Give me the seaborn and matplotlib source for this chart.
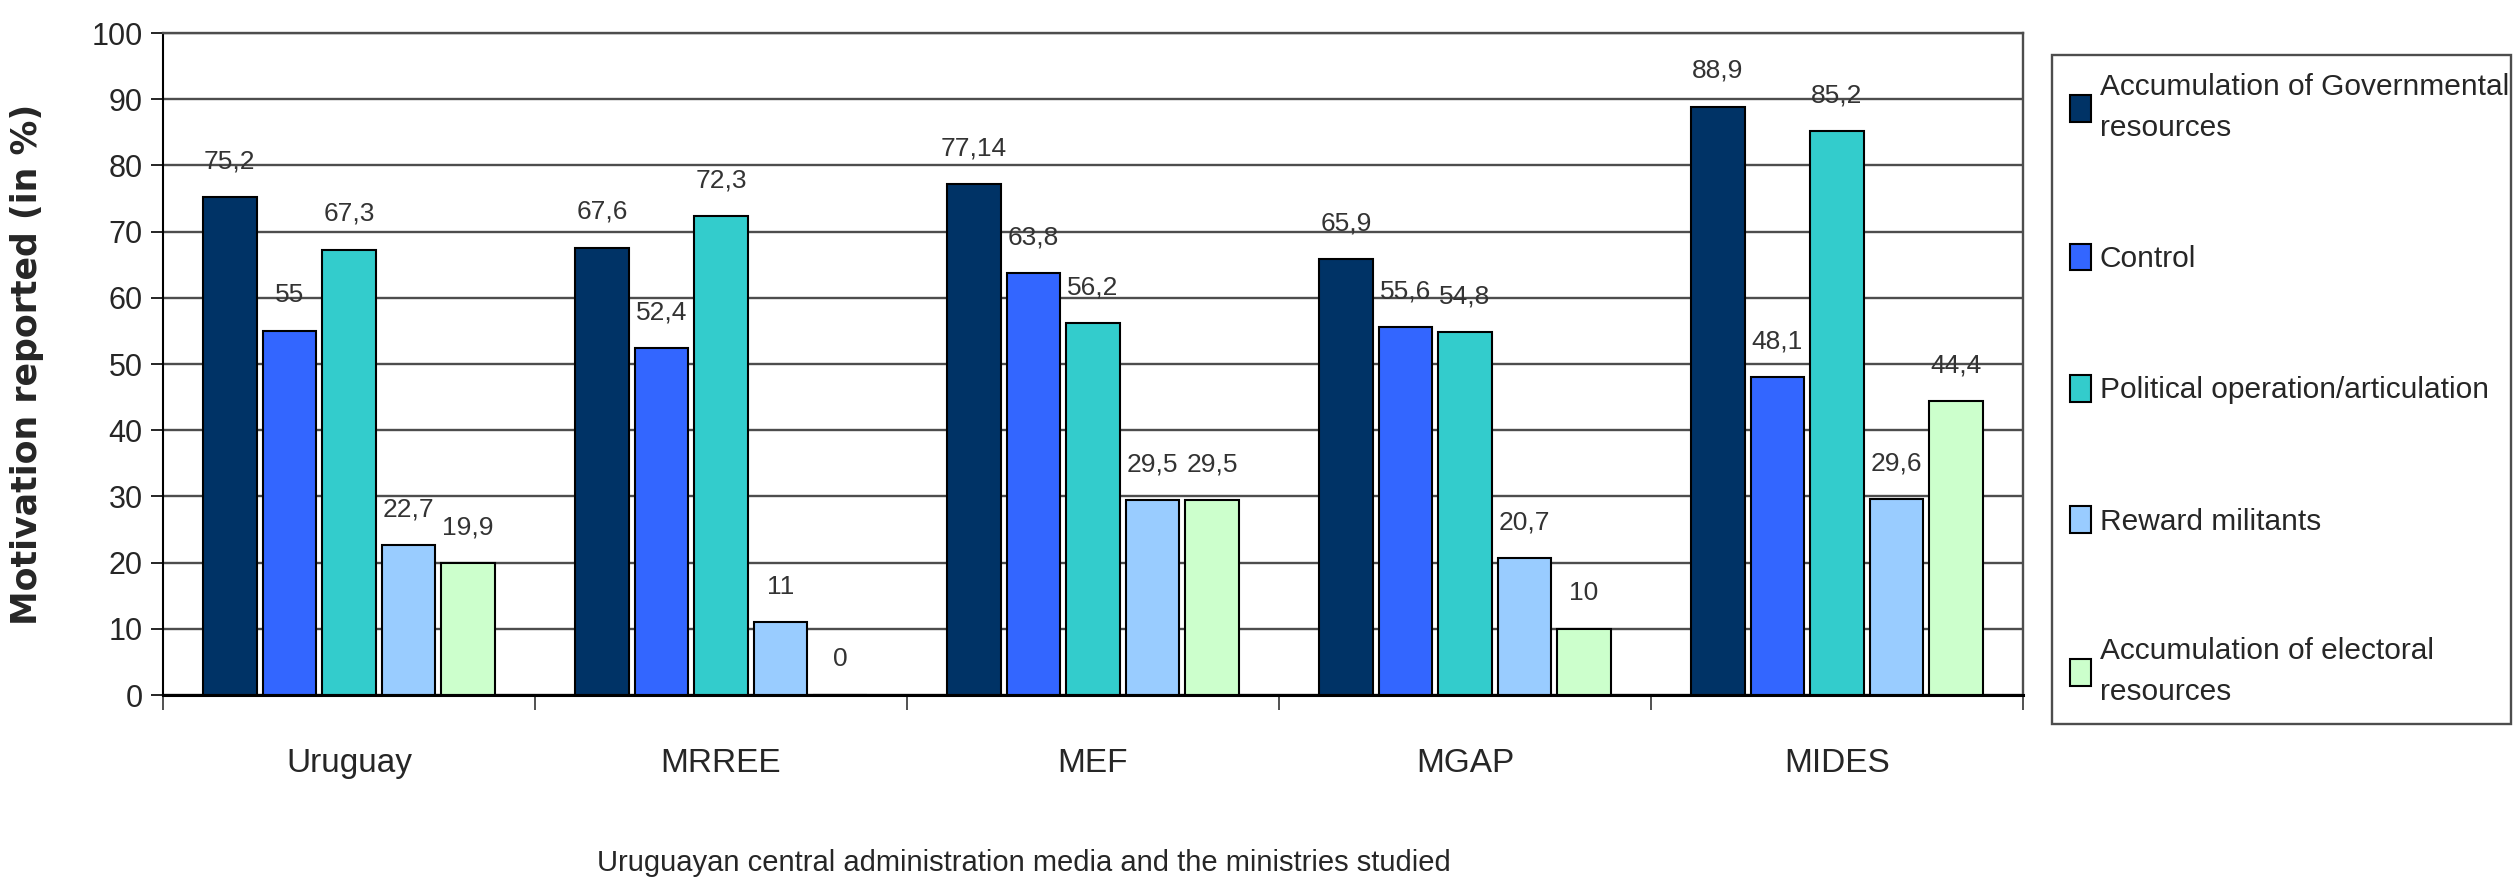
import pandas as pd
import seaborn as sns
import matplotlib.pyplot as plt

# chart data
categories = ["Uruguay", "MRREE", "MEF", "MGAP", "MIDES"]
series_names = [
    "Accumulation of Governmental resources",
    "Control",
    "Political operation/articulation",
    "Reward militants",
    "Accumulation of electoral resources",
]
legend_labels = [
    "Accumulation of Governmental\nresources",
    "Control",
    "Political operation/articulation",
    "Reward militants",
    "Accumulation of electoral\nresources",
]
gov_resources = [75.2, 67.6, 77.14, 65.9, 88.9]
control = [55, 52.4, 63.8, 55.6, 48.1]
political_op = [67.3, 72.3, 56.2, 54.8, 85.2]
reward_militants = [22.7, 11, 29.5, 20.7, 29.6]
electoral_resources = [19.9, 0, 29.5, 10, 44.4]
y_ticks = list(range(0, 101, 10))

colors = ["#003366", "#3366FF", "#33CCCC", "#99CCFF", "#CCFFCC"]

# long table for seaborn
all_values = [gov_resources, control, political_op, reward_militants, electoral_resources]
rows = []
for name, vals in zip(series_names, all_values):
    for cat, v in zip(categories, vals):
        rows.append({"category": cat, "series": name, "value": v})
df = pd.DataFrame(rows)

sns.set_style("white")
plt.rcParams["font.family"] = ["Liberation Sans", "DejaVu Sans"]

fig = plt.figure(figsize=(25.14, 8.88), dpi=100)
ax = fig.add_axes([0.0648, 0.2173, 0.7399, 0.7455])

sns.barplot(
    data=df,
    x="category",
    y="value",
    hue="series",
    order=categories,
    hue_order=series_names,
    palette=colors,
    width=0.8,
    gap=0.1,
    edgecolor="black",
    linewidth=1.5,
    saturation=1,
    errorbar=None,
    ax=ax,
)

# value labels with comma decimals
for cont, vals in zip(ax.containers, all_values):
    labels = [f"{v:g}".replace(".", ",") for v in vals]
    ax.bar_label(cont, labels=labels, padding=17, fontsize=19, color="#333333")

# axes styling
ax.set_ylim(0, 100)
ax.set_xlim(-0.5, 4.5)
ax.set_yticks(y_ticks)
ax.yaxis.grid(True, color="#4d4d4d", linewidth=1.7)
ax.set_axisbelow(True)
ax.tick_params(axis="y", labelsize=22, length=8.5, width=1.2, color="black",
               left=True, pad=6)
ax.tick_params(axis="x", which="major", labelsize=24, length=0, pad=38)
ax.set_xticks([i + 0.5 for i in range(-1, 5)], minor=True)
ax.tick_params(axis="x", which="minor", length=11, width=1.2, color="#333333", bottom=True)

for side in ["top", "right"]:
    ax.spines[side].set_color("#4d4d4d")
    ax.spines[side].set_linewidth(1.7)
ax.spines["left"].set_color("black")
ax.spines["left"].set_linewidth(1.5)
ax.spines["bottom"].set_color("black")
ax.spines["bottom"].set_linewidth(2.2)

ax.set_xlabel("Uruguayan central administration media and the ministries studied",
              fontsize=21)
ax.xaxis.label.set_va("center")
ax.xaxis.set_label_coords(0.463, -0.254)

ax.set_ylabel("Motivation reported (in %)", fontsize=25, fontweight="bold",
              family=["DejaVu Sans"])
ax.yaxis.set_label_coords(-0.064, 0.5)

# legend on the right
handles, _ = ax.get_legend_handles_labels()
ax.get_legend().remove()
leg = fig.legend(
    handles,
    legend_labels,
    loc="upper left",
    bbox_to_anchor=(0.8162, 0.2173, 0.1826, 0.7207),
    mode="expand",
    fontsize=21.5,
    frameon=True,
    fancybox=False,
    edgecolor="#4d4d4d",
    framealpha=1,
    borderpad=0.6,
    labelspacing=3.4,
    handlelength=0.7,
    handleheight=1.0,
    handletextpad=0.3,
    borderaxespad=0,
)
leg.get_frame().set_linewidth(1.7)
for t in leg.get_texts():
    t.set_linespacing(1.6)

fig.savefig("out.png", dpi=100)
